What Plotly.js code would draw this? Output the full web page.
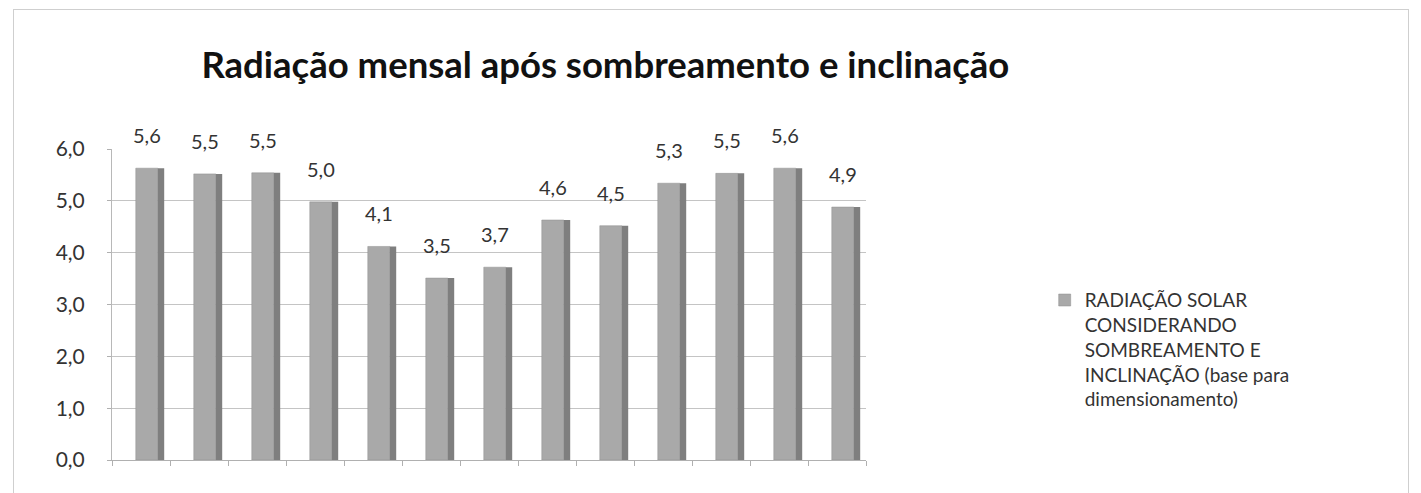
<!DOCTYPE html>
<html>
<head>
<meta charset="utf-8">
<script src="https://cdn.plot.ly/plotly-3.0.1.min.js"></script>
<style>
  html, body { margin: 0; padding: 0; background: #ffffff; }
  #frame { position: absolute; left: 13px; top: 9px; width: 1396px; height: 490px; border: 1px solid #cfcfcf; box-sizing: border-box; }
  #chart { position: absolute; left: 0; top: 0; width: 1421px; height: 493px; }
</style>
</head>
<body>
<div id="frame"></div>
<div id="chart"></div>
<script>
const categories = ['Jan', 'Fev', 'Mar', 'Abr', 'Mai', 'Jun', 'Jul', 'Ago', 'Set', 'Out', 'Nov', 'Dez', 'Média'];
const radiacao = [5.63, 5.52, 5.54, 4.98, 4.12, 3.51, 3.72, 4.63, 4.52, 5.34, 5.53, 5.63, 4.88];
const seriesName = 'RADIAÇÃO SOLAR<br>CONSIDERANDO<br>SOMBREAMENTO E<br>INCLINAÇÃO (base para<br>dimensionamento)';
const titleText = 'Radiação mensal após sombreamento e inclinação';
const yTicks = [0, 1, 2, 3, 4, 5, 6];

const font = 'Lato, "Open Sans", sans-serif';

const front = {
  type: 'bar',
  x: categories,
  y: radiacao,
  name: seriesName,
  offset: -0.09,
  width: 0.38,
  marker: { color: '#a9a9a9', line: { color: '#8e8e8e', width: 0.5 } },
  hoverinfo: 'y'
};
const side = {
  type: 'bar',
  x: categories,
  y: radiacao,
  name: 'side',
  showlegend: false,
  offset: 0.29,
  width: 0.11,
  marker: { color: '#7f7f7f', line: { width: 0 } },
  hoverinfo: 'skip'
};

const labels = categories.map((c, i) => ({
  x: c,
  y: radiacao[i],
  xref: 'x', yref: 'y',
  text: radiacao[i].toFixed(1).replace('.', ','),
  showarrow: false,
  yanchor: 'bottom',
  xanchor: 'center',
  xshift: 6,
  yshift: 19,
  font: { family: font, size: 20, color: '#333333' }
}));

const layout = {
  width: 1421,
  height: 493,
  paper_bgcolor: 'rgba(0,0,0,0)',
  plot_bgcolor: 'rgba(0,0,0,0)',
  margin: { l: 112, r: 555, t: 149, b: 33 },
  barmode: 'overlay',
  separators: ',.',
  font: { family: font, color: '#333333' },
  title: {
    text: '<b>' + titleText + '</b>',
    font: { family: font, size: 36.5, color: '#111111' },
    xref: 'container', x: 0.426, xanchor: 'center',
    yref: 'container', y: 0.868, yanchor: 'middle'
  },
  xaxis: {
    type: 'category',
    range: [-0.5, 12.5],
    showticklabels: false,
    ticks: 'outside',
    tickson: 'boundaries',
    ticklen: 5,
    tickcolor: '#b0b0b0',
    showline: true,
    linecolor: '#b0b0b0',
    showgrid: false,
    zeroline: false
  },
  yaxis: {
    range: [0, 6],
    tickvals: yTicks,
    tickformat: '.1f',
    ticks: 'outside',
    ticklen: 4,
    tickcolor: '#b0b0b0',
    showline: true,
    linecolor: '#b8b8b8',
    gridcolor: '#c4c4c4',
    gridwidth: 1,
    zeroline: false,
    tickfont: { family: font, size: 21, color: '#333333' },
    ticklabelstandoff: 18
  },
  annotations: labels,
  showlegend: true,
  legend: {
    x: 1.237, xanchor: 'left',
    y: 0.575, yanchor: 'top',
    valign: 'top',
    font: { family: font, size: 19, color: '#333333' },
    itemwidth: 30,
    bgcolor: 'rgba(0,0,0,0)'
  }
};

Plotly.newPlot('chart', [front, side], layout, { displayModeBar: false, staticPlot: true });
</script>
</body>
</html>
